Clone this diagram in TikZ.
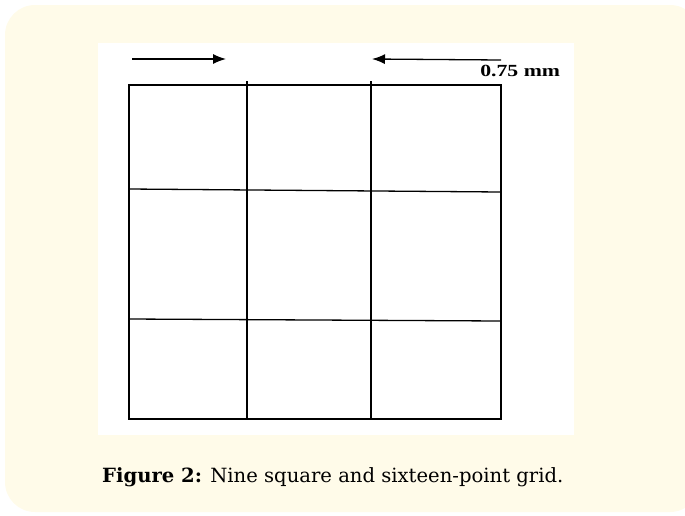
\documentclass[tikz,border=0pt]{standalone}
\usepackage{fontspec}
\setmainfont{Liberation Serif}
\newfontfamily\capfont{DejaVu Serif}
\usetikzlibrary{arrows.meta,positioning}
\definecolor{paper}{HTML}{FFFBE9}

\begin{document}
\begin{tikzpicture}[x=1pt, y=-1pt, every node/.style={inner sep=0pt},
    gridline/.style={line width=1.3pt}]
    \useasboundingbox (0,0) rectangle (685,515);
    \fill[paper, rounded corners=30pt] (5,5) rectangle (700,512);
    \fill[white] (98,43) rectangle (574,435);
    % grid
    \draw[gridline] (129,85) rectangle (501,419);
    \draw[gridline] (247,81) -- (247,419);
    \draw[gridline] (371,81) -- (371,419);
    \draw[gridline] (129,189) -- (501,192);
    \draw[gridline] (129,319) -- (501,321);
    % arrows
    \coordinate (left1) at (132,59);
    \coordinate (left2) at (226,59);
    \coordinate (right1) at (501,60);
    \coordinate (right2) at (372,59);
    \draw[-{Latex[length=13pt,width=10pt]}, line width=1.3pt] (left1) -- (left2);
    \draw[-{Latex[length=13pt,width=10pt]}, line width=1.3pt] (right1) -- (right2);
    \node[font=\fontsize{17}{19}\selectfont\bfseries, anchor=west, xscale=1.28] (size) at (480,71) {0.75 mm};
    \node[font=\fontsize{19.6}{23}\selectfont\capfont, anchor=west] (caption) at (102,477) {\textbf{Figure 2:} Nine square and sixteen-point grid.};
\end{tikzpicture}
\end{document}
